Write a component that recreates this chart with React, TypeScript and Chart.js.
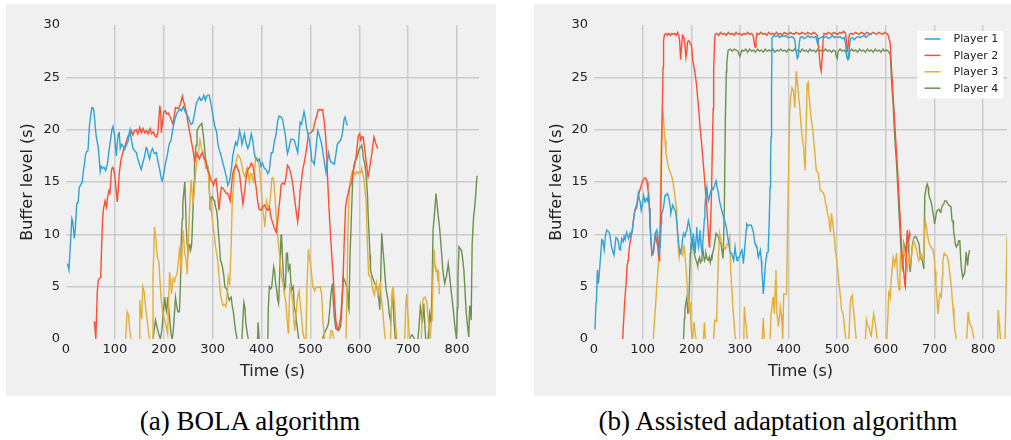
import React, { useEffect, useRef } from "react";
import { Chart, registerables } from "chart.js";

Chart.register(...registerables);

type Pt = [number, number | null];

const playerLabels = ["Player 1", "Player 2", "Player 3", "Player 4"];
const playerColors = ["#30a2da", "#fc4f30", "#e5ae38", "#6d904f"];
const captions = ["(a) BOLA algorithm", "(b) Assisted adaptation algorithm"];
const xAxisTitle = "Time (s)";
const yAxisTitle = "Buffer level (s)";
const xTickStep = 100;
const yTickStep = 5;
const yMax = 30;
const bolaXMax = 845;
const assistedXMax = 849;

// ---------- (a) BOLA ----------
const bolaPlayer1: Pt[] = [
  [3,7.2],[6,6.6],[9,9],[12,11.5],[14,11.2],[17,9.6],[19,10.5],[22,12.9],[25,13.1],[27,14.5],[30,14.7],[33,15],[36,16.2],[38,16.8],[40,17.6],[42,17.9],[45,18],[48,20.4],[51,21.5],[53,22.1],[55,22.1],[57,21.8],[60,20.2],[62,19.3],[64,18.8],[66,18.3],[68,17.2],[70,16],[72,16.5],[75,16.3],[78,16.4],[81,16.1],[83,16.4],[85,16.8],[88,18],[91,19],[94,20],[96,20.3],[99,19.6],[101,18.5],[103,17.5],[105,18.8],[107,19.6],[109,19.7],[111,18.2],[114,18.6],[117,18.4],[120,18.1],[123,18.5],[127,18.9],[129,19.6],[131,20],[134,19],[137,18.2],[140,18],[144,17.8],[147,17.2],[151,16.6],[154,16.2],[157,16.8],[161,17.5],[164,18.3],[166,18.2],[169,17.5],[171,17.2],[174,17.9],[177,18.2],[181,17.7],[185,17.8],[188,17],[192,16.1],[195,15.3],[197,15.1],[200,15.8],[204,16.9],[207,17.5],[211,18.6],[215,19],[219,20.2],[223,21],[226,21.5],[230,21.8],[233,22],[236,21.8],[240,22.2],[243,21.8],[246,21.5],[250,21.2],[253,20.8],[256,20.5],[259,20.6],[263,21.5],[267,22.6],[270,22.8],[273,23.1],[276,22.8],[279,22.9],[282,23.3],[285,22.8],[288,23.2],[290,23.3],[293,23.3],[297,22.4],[300,21.5],[304,20.4],[308,19.8],[311,18.6],[314,18],[318,17.4],[321,16.8],[324,16.3],[328,15.5],[331,14.7],[334,15],[336,15.5],[339,16.5],[341,17.4],[344,18.2],[347,18.8],[350,18.5],[353,19.2],[355,19.9],[358,19.3],[360,18.6],[363,19.2],[365,19.6],[368,18.8],[372,18.2],[375,18.6],[379,19.6],[382,19],[386,17.5],[389,17.2],[392,17],[396,17.2],[399,16.5],[402,16.8],[406,16.3],[409,16.2],[413,15.8],[416,16.1],[420,17.8],[423,17.8],[426,18.8],[430,19.6],[433,20.8],[436,21.3],[440,21.2],[443,21],[446,20.2],[449,19.4],[451,18.5],[453,17.7],[456,18.2],[460,19.1],[464,19.1],[467,19],[470,18.5],[474,17.8],[477,19.5],[479,20.7],[482,20.5],[484,21],[487,21.7],[490,21],[492,20.2],[495,19.6],[498,19],[501,18],[503,17],[506,16.9],[508,16.7],[511,18],[515,19.9],[518,19.5],[521,19],[524,18.4],[526,17.7],[529,16.8],[532,15.9],[535,17],[537,17.8],[540,17.2],[542,16.9],[546,16.8],[549,16.7],[552,17.6],[555,18.6],[558,18.8],[562,19],[565,19.5],[567,20.2],[569,21],[571,21.2],[574,20.6],[576,20.4]
];
const bolaPlayer2: Pt[] = [
  [58,1.7],[61,0],[64,4.5],[66,5.6],[69,5.8],[71,5.9],[73,9],[75,11.6],[77,12.5],[80,13.2],[83,12.6],[85,13.5],[88,14.2],[90,14],[93,16.1],[95,16.4],[97,16.3],[100,15.5],[102,14.5],[105,13.1],[107,14.5],[109,15.8],[112,17],[114,17.4],[117,18],[120,18.3],[123,18.8],[127,19.4],[130,19.4],[134,19.9],[137,19.5],[140,19.9],[144,20],[147,19.6],[151,20.2],[154,19.7],[158,20.1],[161,19.7],[165,19.9],[168,19.6],[172,20.1],[175,19.6],[179,19.8],[182,19.4],[185,19.3],[188,19.7],[190,21],[192,22.3],[194,21.5],[195,19.7],[197,20.5],[200,21.7],[203,21.8],[206,21.5],[209,21.6],[212,21.3],[215,21],[219,20.5],[222,21.5],[224,22.1],[228,22],[232,22.2],[235,22.6],[238,23.2],[240,22.8],[243,22.3],[247,21.5],[250,20.5],[253,19.8],[256,19],[260,18],[263,17],[266,17.5],[268,17.7],[271,17.4],[273,17.2],[276,17.6],[279,17.8],[282,17.3],[286,17],[290,16.1],[293,15.8],[297,15.1],[300,15],[302,14.7],[305,15.2],[307,15.3],[310,14],[313,12.3],[316,13.8],[318,14.5],[321,14.4],[324,14.2],[328,13.9],[331,13.9],[334,13.5],[336,13.2],[339,14.8],[341,15.8],[345,16.4],[348,16.6],[351,16.3],[355,15.8],[358,14.5],[362,12.9],[365,14],[369,15.5],[372,16.2],[376,16.4],[379,16.8],[382,16.6],[385,15.8],[389,14.5],[392,13.2],[395,12.4],[399,12.3],[402,12.6],[406,12.8],[409,12.5],[413,12.3],[416,12.6],[420,11.5],[423,11.1],[426,10.6],[430,10.2],[433,11.2],[435,12.3],[438,13.5],[440,14.7],[443,14.9],[447,14.8],[450,15.4],[453,16.6],[456,16.4],[460,15.8],[464,14.8],[467,13.6],[471,12.2],[474,11.2],[477,12.5],[479,14.2],[482,15.2],[484,16.1],[488,17],[491,17.8],[494,18.8],[496,19.6],[500,19.7],[503,19.8],[506,20],[508,20.5],[511,21],[513,21.3],[516,21.9],[520,21.9],[525,21.9],[528,20.9],[531,19.5],[533,18],[535,15.5],[538,12.6],[541,10],[544,7.8],[547,5.8],[549,4],[552,1.8],[555,1],[557,0.9],[560,1.5],[562,2.1],[565,4],[567,5.9],[569,9],[572,12.6],[575,13.5],[578,14],[580,14.5],[583,14.8],[585,15.2],[587,15.9],[590,16.6],[593,17.2],[596,18.5],[598,19.4],[601,19.6],[603,19],[606,19.3],[608,19.3],[611,18.2],[613,17.4],[616,16.2],[618,15.5],[621,16.2],[623,16.9],[626,17.8],[630,19.3],[633,18.8],[635,18.5],[638,18.2]
];
const bolaPlayer3: Pt[] = [
  [122,0],[125,2.6],[128,2.3],[130,1],[133,0],[140,null],[150,0],[151,3.7],[153,2.5],[155,1.9],[157,5],[160,4.5],[163,3],[166,1.8],[169,0.5],[171,0],[173,null],[176,0],[178,6],[181,10.7],[184,9.5],[186,8.2],[188,7.6],[190,7.4],[193,5],[195,3.7],[198,2.5],[202,1.8],[205,1.2],[208,0.5],[210,3.5],[212,6.4],[214,5.5],[216,4.3],[219,5.8],[222,5.5],[224,5.9],[227,6.2],[229,6.9],[232,8.5],[234,7.8],[236,6.2],[239,10.4],[241,9.5],[243,8.2],[246,7.5],[248,6.2],[250,9],[252,11.3],[254,13.5],[256,15.2],[258,14],[260,12.9],[263,14.5],[265,15.8],[267,16.8],[269,17.4],[272,18.2],[274,19],[277,18.3],[280,17.8],[282,17.4],[284,17],[286,16.3],[289,16.4],[291,16.1],[293,14.5],[295,13.2],[298,12],[301,10.7],[304,9.7],[306,8.8],[309,8],[311,7.2],[314,5.5],[316,4.3],[319,3.6],[321,3.2],[324,3.3],[327,3.1],[330,4.5],[332,5.9],[334,5.4],[335,5.3],[338,9],[340,12.9],[343,14.8],[345,16.1],[348,16.9],[350,17.4],[352,17.6],[354,17.5],[357,17.2],[359,16.8],[362,16],[366,15.5],[369,16.2],[371,16.4],[373,15.8],[375,15],[378,15.8],[380,15.8],[382,15.2],[384,15],[386,16],[388,17.4],[391,17.3],[393,17.1],[396,16.3],[398,15.2],[400,13.8],[402,12.6],[405,11.5],[407,10.7],[410,13.2],[413,12.7],[416,12.6],[419,14],[421,15.3],[423,15.4],[425,15.2],[427,14],[429,12.6],[431,11],[434,9.4],[437,8],[439,6.9],[441,6],[444,5.3],[447,4.3],[450,3.4],[452,2],[455,0.5],[458,5],[461,4.5],[464,3.7],[466,2],[468,0.8],[470,2],[472,3.1],[474,4],[477,4.6],[479,3.5],[481,2.6],[483,1.5],[485,0.5],[488,0],[489,null],[491,0],[493,5],[496,8.6],[498,7.8],[500,7.2],[503,6],[505,5],[507,4.8],[509,4.6],[512,5],[514,5],[517,4.9],[520,5],[523,4.3],[526,1.5],[529,0],[535,null],[540,0],[542,0.8],[544,0.8],[546,0.5],[548,0],[560,null],[573,0],[575,5],[577,11],[580,14.5],[583,15.5],[586,16],[589,16],[592,15.7],[595,16],[598,15.8],[601,16],[603,15.9],[605,16.3],[607,15.8],[609,15.5],[611,14.5],[614,13.2],[616,10],[619,6.2],[621,6],[624,5.9],[626,5.2],[628,4.6],[631,4.2],[633,5],[635,5.4],[638,4.3],[640,4.9],[643,5.3],[645,4],[648,2.7],[651,1],[653,0],[658,null],[664,0],[666,3],[669,5],[672,3.5],[675,1],[677,0],[685,null],[693,0],[695,3],[697,4.3],[700,2],[703,0],[715,null],[727,0],[730,3.7],[733,4],[735,4],[738,3.5],[741,2],[743,1],[745,0],[747,1.5],[749,1.8],[751,6],[753,8.6],[755,7],[757,6.5],[759,6.6],[761,5.5],[762,6.6],[764,4.3]
];
const bolaPlayer4: Pt[] = [
  [178,0],[181,1],[183,1.8],[186,1.2],[189,0.6],[193,0],[196,0.8],[199,2.5],[202,4],[204,3],[206,2.6],[208,4],[210,3],[212,2],[215,0.5],[217,0],[219,0.5],[222,2.5],[224,4],[227,3],[229,2.6],[232,2.6],[234,5],[236,9.7],[238,11.5],[239,12.9],[241,14],[243,15],[245,12.5],[246,10.7],[248,9],[250,8.2],[252,9],[253,9.1],[255,8.5],[257,9],[258,10],[260,12.6],[262,15],[263,16.8],[266,18.5],[268,19.9],[271,20.2],[274,20.4],[276,20.5],[278,20.6],[280,19.8],[282,19],[285,17.5],[287,16.4],[290,16.5],[292,15.8],[294,13.5],[295,12.3],[297,13.5],[299,13.6],[302,13.3],[304,13.2],[306,12.6],[308,12.3],[310,11.5],[311,10.7],[314,9],[316,7.5],[318,7.3],[320,6.9],[323,6],[325,5],[328,4.8],[330,4.6],[332,4],[334,3.7],[336,3.9],[338,4],[340,3.2],[343,2.4],[345,1.5],[347,0.8],[350,0],[355,null],[360,0],[362,2],[364,3.5],[366,3],[368,1.5],[371,0.5],[373,0],[385,null],[392,0],[393,1.6],[395,0],[405,null],[413,0],[414,3],[416,5],[419,4.8],[421,5],[423,6],[425,6.9],[427,6.4],[429,5.3],[431,4.7],[433,3.8],[435,3.4],[437,6],[440,9.9],[441,10],[443,7.8],[445,6],[447,4.7],[449,5],[451,8.2],[453,8.2],[455,6.6],[457,6.9],[458,7.2],[460,5.5],[462,4.7],[465,5],[467,3.1],[470,2.4],[472,1.5],[474,0.8],[476,0],[500,null],[525,0],[528,0.5],[532,0.9],[535,1.2],[537,1.5],[540,3],[542,4.3],[545,5.3],[547,3.5],[549,2.1],[552,1],[555,0.9],[557,0.8],[559,0.9],[562,1.2],[564,2.5],[567,5.9],[569,5.7],[571,5.5],[574,5],[576,4.7],[578,3],[579,2.8],[581,7.8],[583,10.5],[585,13.2],[587,15.8],[589,16.5],[591,16.9],[594,17.2],[596,17.4],[599,18],[601,18.3],[603,18.3],[605,18.5],[607,18],[608,17.4],[611,16.8],[613,16.1],[615,15],[617,13.6],[618,12],[620,10.1],[622,8],[623,6.6],[625,6.2],[627,5.9],[630,5.5],[632,5.3],[635,5],[637,4.7],[640,3.8],[642,2.8],[644,6],[646,10.1],[648,8.8],[651,7.2],[653,5.8],[655,4.7],[657,4.2],[659,3.7],[661,2.5],[664,1.7],[666,3],[668,4.7],[670,3],[671,1.8],[673,0.5],[674,0],[690,null],[703,0],[706,0.3],[708,0.4],[711,0.2],[713,0],[716,null],[720,0],[722,1],[725,3.1],[727,2.5],[729,1.5],[731,2.5],[732,3.4],[734,1.5],[736,0],[738,null],[741,0],[744,2.4],[747,1.5],[749,5],[751,10.4],[754,12],[757,13.9],[759,13],[761,12],[764,10.8],[766,9.7],[768,8.5],[771,6.6],[773,5.8],[775,5.3],[777,5.8],[778,5.9],[780,6.5],[782,7.2],[785,6],[787,5.1],[789,4.2],[791,3.4],[793,2.5],[795,1.5],[797,0.7],[799,0],[801,3],[802,6],[804,8.8],[807,8.6],[809,8.5],[812,7.5],[814,6.6],[816,5],[817,4],[819,2.5],[821,1.5],[824,0.2],[826,3.2],[828,2.5],[829,1.8],[831,9.1],[834,11.7],[836,12.5],[838,13.6],[840,15],[841,15.6]
];

// ---------- (b) Assisted adaptation ----------
const assistedPlayer1: Pt[] = [
  [2,0.9],[4,3.4],[5,3.5],[7,6.6],[9,5.3],[11,6.3],[14,8.2],[16,9.5],[18,9.4],[21,8.5],[23,9.7],[26,10.4],[29,10.3],[32,10.1],[34,9.5],[36,8.8],[39,8.3],[41,8],[43,8.8],[45,9.7],[48,9.6],[50,9.3],[52,8.6],[54,8.5],[57,9.6],[60,9.3],[62,9.8],[64,9.5],[67,10.2],[69,9.9],[71,9.6],[74,10.1],[76,9.8],[79,10.4],[81,11.3],[84,12.3],[86,12.6],[88,12.8],[91,13.9],[93,13.4],[95,13.1],[97,12.3],[100,13],[102,13.7],[105,13.1],[108,13.4],[110,13.2],[112,13.9],[114,12.5],[115,11],[117,9.5],[119,8.2],[122,8.5],[124,9.2],[126,10.1],[129,10.4],[131,9],[132,8.2],[134,8.5],[136,8.8],[138,11],[139,12],[141,12.2],[143,12.6],[146,13.7],[148,13.8],[151,13.9],[153,13.6],[155,13.2],[157,12.5],[158,12],[160,12.4],[162,12.8],[165,12.4],[167,12.3],[170,11.3],[172,10.2],[174,9.1],[177,8.2],[180,8.6],[182,9.5],[184,10.1],[187,9.8],[189,10.2],[191,10.4],[194,11.3],[196,10.9],[198,10.4],[200,9.5],[201,8.5],[203,9.5],[204,10.1],[206,9],[208,8.2],[210,9.8],[211,10.7],[213,9.5],[215,8.8],[217,9.8],[218,10.4],[220,9],[222,8.2],[224,9.5],[225,10.1],[227,11.5],[228,12.6],[230,13.8],[232,14.5],[234,13.5],[235,13.2],[237,13.5],[239,13.9],[241,14.2],[242,14.5],[245,14.3],[248,14.7],[251,15.1],[253,14.5],[256,13.9],[258,13.2],[261,12.6],[263,12.2],[266,11.7],[269,11.2],[272,10.7],[274,10],[276,9.4],[278,8.8],[280,8.2],[283,8.2],[285,7.8],[287,7.5],[289,8.3],[290,8.8],[292,8],[294,7.5],[296,7.8],[299,7.8],[301,8.2],[304,8.5],[306,7.8],[307,7.2],[309,8.2],[311,9.3],[313,10.5],[314,11],[317,10.8],[320,10.9],[323,10.9],[326,10.5],[328,10.1],[331,9.1],[333,8.9],[335,8.8],[337,8],[338,7.8],[340,8.2],[342,8.5],[344,7.5],[345,6.6],[347,5.2],[348,4.3],[350,5.5],[352,6.9],[354,7.8],[355,8.2],[358,8.3],[360,11],[362,14.5],[363,17],[364,19.3],[365,24],[366,28.8],[370,29],[374,28.9],[378,29],[382,28.8],[386,29],[390,28.9],[394,29],[398,28.8],[402,28.8],[406,28.9],[410,28.8],[413,28.5],[415,27.6],[418,26.8],[420,27],[422,28.3],[424,28.8],[428,28.9],[432,28.7],[436,28.8],[440,29],[444,28.8],[448,28.9],[452,28.8],[456,28.9],[458,28.5],[460,28.2],[462,28.7],[466,28.8],[470,28.9],[474,28.8],[478,28.9],[482,28.7],[486,28.8],[490,29],[494,28.8],[498,28.9],[502,28.8],[506,28.9],[510,28.7],[514,28.8],[517,28.3],[519,27.2],[521,26.8],[523,26.8],[525,27.8],[527,28.7],[531,28.8],[535,28.6],[539,28.8],[543,28.9],[547,28.8],[551,28.9],[555,29],[559,28.8],[563,29],[567,29.1],[571,29.1]
];
const assistedPlayer2: Pt[] = [
  [59,0],[61,1.8],[63,3.5],[66,5.3],[68,7],[70,7.5],[71,8],[73,8.8],[76,9.8],[78,10.2],[81,11.3],[84,12.3],[86,12.4],[88,12.6],[91,13.6],[93,14],[96,14.5],[98,14.8],[100,15.1],[103,15.3],[105,15.4],[107,15.3],[109,15],[111,14.2],[112,13.9],[114,12.5],[115,11.3],[117,9.5],[119,8],[121,8.1],[122,8.2],[124,9],[126,9.9],[128,9.5],[129,9.3],[131,9.9],[132,9.2],[134,7.5],[135,9],[137,11.3],[138,15],[140,20.9],[142,26],[143,28.5],[145,29.1],[148,29.2],[151,29],[154,29.2],[157,29],[160,29.2],[163,29.1],[166,29.2],[169,29],[172,29.3],[174,29],[176,28.5],[178,26.7],[180,28],[182,29],[185,28.8],[187,28],[189,26.9],[191,27.5],[192,28.3],[194,28.5],[196,28.4],[199,28.2],[201,27.8],[203,26.6],[206,25.9],[208,25.3],[211,24.2],[213,23.1],[216,21.5],[218,20.2],[221,18.8],[223,17.7],[226,16],[228,14.8],[230,13.6],[232,12.6],[234,11],[235,10.1],[237,8.8],[238,9.5],[240,11.3],[242,15],[243,17.7],[245,22],[246,25.6],[248,28.5],[249,29.1],[252,29.2],[256,29],[260,29.3],[264,29.1],[268,29.2],[272,29],[276,29.3],[280,29.1],[284,29.2],[288,29],[292,29.3],[296,29.1],[300,29.2],[304,29],[308,29.2],[312,29.1],[316,29.3],[320,29.1],[324,29.2],[327,29],[329,28.4],[331,27.9],[333,28.6],[335,29.2],[339,29.1],[343,29.3],[347,29.1],[351,29.2],[355,29],[359,29.3],[363,29.1],[367,29.2],[371,29.1],[375,29.3],[379,29.1],[383,29.2],[387,29],[391,29.3],[395,29.2],[399,29.1],[403,29.3],[407,29.2],[411,29.1],[415,29.3],[419,29.2],[423,29.1],[427,29.3],[431,29.2],[435,29.1],[439,29.3],[443,29.2],[447,29.1],[451,29.3],[455,29.2],[459,29],[461,28.4],[463,27.2],[465,26.1],[467,25.6],[469,26.8],[471,28.6],[473,29.2],[477,29.1],[481,29.3],[485,29.2],[489,29.1],[493,29.3],[497,29.2],[501,29.1],[505,29.3],[509,29.2],[513,29.4],[517,29.2],[519,28.5],[521,27.4],[523,28.2],[525,29.1],[529,29.2],[533,29.1],[537,29.3],[541,29.2],[545,29.1],[549,29.3],[553,29.2],[557,29.1],[561,29.3],[565,29.2],[569,29.1],[573,29.3],[577,29.2],[581,29.1],[585,29.3],[589,29.2],[593,29.1],[597,29.3],[601,29.2],[604,29.1],[607,28.6],[609,28.2],[612,25.5],[616,22.4],[619,20],[623,17],[626,14.5],[628,12.6],[631,10],[633,8.2],[635,7.2],[637,6.3],[639,5.2],[640,5],[642,8.2],[644,10.4],[646,9.6],[647,9.4],[649,10.1],[650,9.8]
];
const assistedPlayer3: Pt[] = [
  [122,0],[124,1.5],[126,2.8],[129,5],[132,6.9],[134,9],[136,11.3],[138,17.7],[140,21],[141,22],[143,21],[144,20.2],[146,19],[148,17.7],[151,16.9],[153,16.4],[156,16],[158,15.8],[161,15.3],[163,14.8],[166,13.8],[169,12.6],[170,11.5],[172,9.7],[174,8.2],[175,7.8],[177,8.6],[178,8.5],[180,8.2],[182,8],[184,8.8],[185,9],[187,8],[189,6.9],[191,5.5],[192,4.3],[194,3.5],[196,2.8],[198,3.5],[199,1.5],[201,0.3],[203,0],[205,1.5],[206,1.5],[208,0.5],[210,0],[218,null],[225,0],[227,1.6],[229,0],[238,null],[246,0],[248,1.8],[250,1.8],[252,1.7],[254,5],[256,8],[258,10.1],[260,9.6],[261,9.4],[263,9],[265,8.8],[267,8.8],[270,8.6],[272,8.8],[274,9.1],[276,9],[279,9.7],[281,6.6],[283,5],[285,3.4],[288,1.5],[290,0.2],[291,0],[300,null],[308,0],[309,3.1],[311,2],[313,1.2],[315,0],[330,null],[346,0],[348,2],[350,0],[356,null],[362,0],[364,2.4],[366,3.1],[368,4],[370,3],[371,2.4],[373,5.6],[374,6.6],[376,2.4],[378,1.8],[379,1.2],[381,2],[383,3.1],[385,2.4],[386,1.8],[388,0],[390,4.3],[393,4.3],[395,4.3],[396,4.4],[398,11.3],[400,16],[402,21.5],[404,23],[407,24],[410,23.7],[413,22.1],[415,25],[416,25.6],[418,24.5],[419,24],[421,23],[423,22.1],[426,20.2],[428,19.3],[431,18.3],[433,16.8],[434,16.1],[436,20],[438,24.3],[440,24.5],[441,23.7],[444,22.3],[446,21.2],[448,20.5],[450,19.9],[452,18.8],[454,17.7],[457,16.1],[461,15.9],[465,14.2],[468,14.1],[471,14],[474,13.6],[476,13],[478,12.6],[480,12],[482,11.7],[484,11],[486,10.2],[488,12],[489,12],[491,11],[493,10.1],[495,9.3],[496,8.5],[499,7.5],[501,6.6],[503,5.5],[505,4.7],[507,3.8],[509,2.8],[512,2.4],[514,1.5],[515,0.9],[518,0],[521,null],[524,0],[526,2.5],[527,3.7],[529,4],[531,4.2],[533,3],[535,2.1],[537,1],[539,0],[548,null],[558,0],[560,1.8],[562,1.3],[565,1.2],[568,0.5],[570,0.3],[572,1.2],[575,2.4],[577,1.8],[579,1.2],[582,0],[592,null],[602,0],[604,2],[606,4.5],[608,4.3],[609,4],[611,5.6],[613,6.8],[615,7.8],[617,7.4],[618,7.2],[620,7.5],[622,8.2],[624,5.9],[627,4.7],[629,6.5],[630,8.2],[633,6.9],[635,7.8],[637,8.8],[640,7.7],[642,7],[644,6.6],[646,7.5],[647,8.2],[650,7.2],[652,7.8],[654,8.5],[657,9.4],[660,9],[663,8.5],[666,7.8],[668,7.5],[670,7.8],[672,8.2],[675,7.8],[677,7.5],[679,9.5],[681,11.3],[683,10.8],[685,10.1],[688,9.3],[690,9],[693,8.8],[695,8.6],[697,8.5],[700,7.5],[701,6.5],[703,5],[705,3.8],[707,2.4],[709,3.5],[711,4.3],[713,4.1],[714,4],[716,6],[717,7.5],[720,8.2],[722,8],[725,8],[728,7.5],[730,6.8],[733,5.6],[735,4.8],[736,4],[738,3],[740,1.8],[742,0.8],[743,0.5],[745,0],[755,null],[766,0],[768,1.5],[769,2.6],[771,1.8],[772,1.5],[775,1.2],[777,1],[779,0.5],[781,0],[805,null],[829,0],[830,1.5],[831,2.8],[833,1.5],[834,0.9],[836,0],[840,null],[845,0],[847,4.5],[849,9.8]
];
const assistedPlayer4: Pt[] = [
  [184,0],[186,2],[187,2.8],[189,3.5],[191,4],[193,2.4],[195,3.4],[196,5],[198,8.2],[199,9],[201,9.4],[203,9.6],[204,9.7],[206,8.2],[208,7.8],[210,7.5],[212,7.2],[213,7],[215,7.5],[217,7.8],[219,7.3],[221,7.5],[222,8],[224,8.5],[226,7.8],[227,7.5],[229,7.8],[230,8.2],[233,7.6],[235,7.5],[237,7.8],[239,7.3],[241,7.8],[242,7.5],[244,8.2],[247,8.8],[249,9.5],[251,10.1],[254,9.9],[256,9.7],[258,9.3],[261,9.1],[263,8.5],[265,7.7],[266,8.5],[268,12.6],[270,20.9],[272,25.5],[273,26.3],[275,27.3],[276,27.6],[280,27.7],[284,27.5],[288,27.7],[292,27.6],[296,27.5],[298,27.2],[300,27],[302,27.3],[304,27.6],[308,27.5],[312,27.7],[316,27.4],[320,27.7],[324,27.5],[328,27.6],[332,27.4],[336,27.7],[340,27.5],[344,27.6],[348,27.4],[352,27.7],[356,27.5],[360,27.6],[364,27.5],[368,27.7],[372,27.4],[376,27.6],[380,27.5],[384,27.7],[388,27.5],[392,27.6],[396,27.4],[400,27.7],[404,27.6],[408,27.5],[412,27.7],[416,27.5],[420,27.6],[424,27.4],[428,27.7],[432,27.5],[436,27.6],[440,27.4],[444,27.7],[448,27.5],[452,27.6],[456,27.4],[460,27.7],[464,27.5],[468,27.6],[472,27.5],[476,27.7],[480,27.5],[484,27.6],[488,27.4],[492,27.6],[496,27.5],[498,27],[500,26.8],[502,27.5],[506,27.7],[510,27.5],[514,27.6],[518,27.4],[520,27],[522,26.7],[524,26.8],[526,27.5],[530,27.7],[534,27.5],[538,27.6],[542,27.4],[546,27.7],[550,27.5],[554,27.6],[558,27.4],[562,27.7],[566,27.5],[570,27.6],[574,27.4],[578,27.7],[582,27.5],[586,27.6],[590,27.4],[594,27.7],[598,27.5],[602,27.6],[605,27.5],[609,27.2],[612,24.5],[615,22.4],[618,19.5],[622,16.7],[625,14],[627,12],[629,10.5],[631,8.5],[632,7.5],[634,6.9],[636,8],[637,9.1],[640,8.5],[642,9],[644,9.7],[646,9],[647,8.2],[649,7.2],[650,6.4],[652,7.5],[654,8.8],[657,9.6],[660,9.8],[663,9.7],[665,9.4],[668,9.1],[671,7.8],[673,7.6],[675,7.5],[677,7],[678,6.7],[680,13.6],[683,14.5],[685,14.8],[687,14.5],[688,13.9],[690,13.5],[693,13.1],[695,12.6],[697,12],[699,11.5],[700,11],[702,11.5],[704,12.1],[706,12.3],[709,12.4],[711,12.2],[713,12.1],[715,12.6],[717,12.8],[719,12.9],[721,13.2],[724,13.2],[726,13],[729,12.8],[732,12.7],[734,12.6],[736,11.3],[738,11.3],[739,10.5],[741,9.7],[743,9],[745,8.8],[747,9],[748,9.1],[750,9.4],[752,9.4],[754,7.5],[755,6.9],[757,6.2],[758,5.9],[760,6.1],[762,6.3],[764,7.5],[765,8.3],[767,7.5],[768,7],[770,8],[772,8.5]
];

const bolaSeries = [bolaPlayer1, bolaPlayer2, bolaPlayer3, bolaPlayer4];
const assistedSeries = [assistedPlayer1, assistedPlayer2, assistedPlayer3, assistedPlayer4];

const TICK_FONT = { family: "'DejaVu Sans', sans-serif", size: 13 };
const TITLE_FONT = { family: "'DejaVu Sans', sans-serif", size: 16 };
const GRID = "#cbcbcb";

const legendPlugin = {
  id: "boxLegend",
  afterDraw(chart: any, _args: any, opts: any) {
    if (!opts || !opts.show) return;
    const ctx = chart.ctx;
    const x = opts.x, y = opts.y, w = opts.w, h = opts.h;
    ctx.save();
    ctx.fillStyle = "#ffffff";
    ctx.beginPath();
    const r = 3;
    ctx.moveTo(x + r, y);
    ctx.lineTo(x + w - r, y);
    ctx.quadraticCurveTo(x + w, y, x + w, y + r);
    ctx.lineTo(x + w, y + h - r);
    ctx.quadraticCurveTo(x + w, y + h, x + w - r, y + h);
    ctx.lineTo(x + r, y + h);
    ctx.quadraticCurveTo(x, y + h, x, y + h - r);
    ctx.lineTo(x, y + r);
    ctx.quadraticCurveTo(x, y, x + r, y);
    ctx.fill();
    ctx.font = "11px 'DejaVu Sans', sans-serif";
    ctx.textBaseline = "middle";
    ctx.textAlign = "left";
    chart.data.datasets.forEach((ds: any, i: number) => {
      const cy = y + 8 + i * 16.4;
      ctx.strokeStyle = ds.borderColor;
      ctx.lineWidth = 1.5;
      ctx.beginPath();
      ctx.moveTo(x + 7.5, cy);
      ctx.lineTo(x + 23.5, cy);
      ctx.stroke();
      ctx.fillStyle = "#222222";
      ctx.fillText(ds.label, x + 36.5, cy + 0.5);
    });
    ctx.restore();
  },
};

function buildConfig(series: Pt[][], xMax: number, yTitlePad: number, rightPad: number, showLegend: boolean): any {
  return {
    type: "line",
    data: {
      datasets: series.map((s, i) => ({
        label: playerLabels[i],
        data: s.map(([t, v]) => ({ x: t, y: v })),
        borderColor: playerColors[i],
        backgroundColor: playerColors[i],
        borderWidth: 1.4,
        pointRadius: 0,
        tension: 0,
        spanGaps: false,
        clip: 0,
      })),
    },
    options: {
      responsive: false,
      animation: false,
      events: [],
      layout: { padding: { left: 0, right: rightPad, top: 21, bottom: 0 } },
      plugins: {
        legend: { display: false },
        tooltip: { enabled: false },
        boxLegend: { show: showLegend, x: 383, y: 27, w: 86.5, h: 67.5 },
      },
      scales: {
        x: {
          type: "linear",
          min: 0,
          max: xMax,
          border: { display: false },
          grid: {
            drawTicks: false,
            lineWidth: 1.5,
            color: (c: any) => (c.tick && c.tick.value === 0 ? "rgba(0,0,0,0)" : GRID),
          },
          ticks: {
            stepSize: xTickStep,
            includeBounds: false,
            autoSkip: false,
            maxRotation: 0,
            padding: 3,
            color: "#222222",
            font: TICK_FONT,
          },
          title: {
            display: true,
            text: xAxisTitle,
            color: "#222222",
            font: TITLE_FONT,
            padding: { top: 0, bottom: 14.4 },
          },
          afterFit: (s: any) => { s.height = 57; },
        },
        y: {
          type: "linear",
          min: 0,
          max: yMax,
          border: { display: false },
          grid: {
            drawTicks: false,
            lineWidth: 1.5,
            color: (c: any) => (c.tick && (c.tick.value === 0 || c.tick.value === yMax) ? "rgba(0,0,0,0)" : GRID),
          },
          ticks: {
            stepSize: yTickStep,
            padding: 6,
            color: "#222222",
            font: TICK_FONT,
          },
          title: {
            display: true,
            text: yAxisTitle,
            color: "#222222",
            font: TITLE_FONT,
            padding: { top: yTitlePad, bottom: 0 },
          },
          afterFit: (s: any) => { s.width = 60; },
        },
      },
    },
    plugins: [legendPlugin],
  };
}

function Panel(props: { series: Pt[][]; xMax: number; yTitlePad: number; rightPad: number; legend: boolean; left: number; width: number }) {
  const ref = useRef<HTMLCanvasElement | null>(null);
  useEffect(() => {
    if (!ref.current) return;
    const chart = new Chart(ref.current, buildConfig(props.series, props.xMax, props.yTitlePad, props.rightPad, props.legend));
    return () => chart.destroy();
  }, []);
  return (
    <div style={{ position: "absolute", left: props.left, top: 4, width: props.width, height: 392, background: "#f0f0f0" }}>
      <canvas ref={ref} width={props.width} height={392} style={{ display: "block", width: props.width, height: 392 }} />
    </div>
  );
}

export default function App() {
  const capStyle: React.CSSProperties = {
    position: "absolute",
    top: 406,
    width: 500,
    textAlign: "center",
    fontFamily: "'Liberation Serif', serif",
    fontSize: 27,
    lineHeight: "30px",
    color: "#000",
    whiteSpace: "nowrap",
  };
  return (
    <div style={{ position: "absolute", left: 0, top: 0, width: 1011, height: 440, background: "#fff", overflow: "hidden" }}>
      <Panel series={bolaSeries} xMax={bolaXMax} yTitlePad={12.4} rightPad={17} legend={false} left={6} width={490} />
      <Panel series={assistedSeries} xMax={assistedXMax} yTitlePad={13.4} rightPad={4} legend={true} left={534} width={477} />
      <div style={{ ...capStyle, left: 0 }}>{captions[0]}</div>
      <div style={{ ...capStyle, left: 528 }}>{captions[1]}</div>
    </div>
  );
}
